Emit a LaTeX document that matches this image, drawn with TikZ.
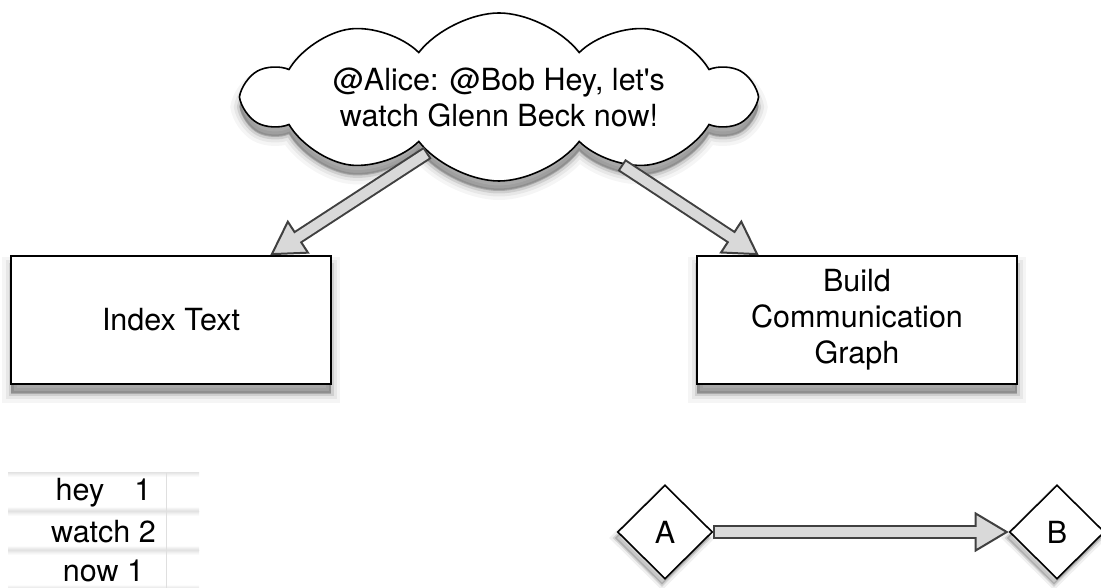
\documentclass[tikz,border=0pt]{standalone}
\usepackage{fontspec}
\newfontfamily\heros{TeX Gyre Heros}
\usepackage{tikz}
\usetikzlibrary{shapes.geometric,shapes.symbols,arrows.meta,shadows}
\pgfdeclareverticalshading{rowshade}{100bp}{color(0bp)=(gray!40); color(25bp)=(gray!40); color(27bp)=(gray!22); color(32bp)=(white); color(70bp)=(white); color(73bp)=(gray!10); color(75bp)=(gray!18); color(100bp)=(gray!18)}
\tikzstyle{softshadow} = [general shadow={shadow yshift=-10pt, draw=black, line width=18pt, opacity=.04, fill=black}, general shadow={shadow yshift=-10pt, draw=black, line width=11pt, opacity=.06, fill=black}, general shadow={shadow yshift=-10pt, draw=black, line width=5pt, opacity=.1, fill=black}, general shadow={shadow yshift=-9pt, opacity=.15, fill=black}]
\tikzstyle{bubble} = [cloud, cloud puffs=10, cloud puff arc=105, cloud ignores aspect, minimum width=508pt, minimum height=168pt, inner sep=0pt, align=center, draw=black, line width=1.6pt, fill=white, softshadow]
\tikzstyle{task} = [rectangle, minimum width=320pt, minimum height=128pt, align=center, draw=black, line width=1.6pt, fill=white, softshadow]
\tikzstyle{vertex} = [diamond, minimum width=95pt, minimum height=94pt, inner sep=0pt, draw=black, line width=1.6pt, fill=white, general shadow={shadow xshift=-3pt, shadow yshift=-6pt, draw=black, line width=8pt, opacity=.06, fill=black}, general shadow={shadow xshift=-3pt, shadow yshift=-6pt, draw=black, line width=3pt, opacity=.12, fill=black}]
\tikzstyle{row} = [rectangle, minimum width=191pt, minimum height=39pt, inner sep=0pt, shading=rowshade]
\tikzstyle{blockarrow} = [line width=14pt, draw=black!75, -{Triangle[length=34pt, width=40pt, line width=2pt, fill=gray!30]}, postaction={draw=gray!30, line width=10pt, -, shorten <=2pt, shorten >=31pt}]

\begin{document}
\begin{tikzpicture}[x=1pt, y=1pt, node distance=39pt, font=\heros\fontsize{30.5}{36}\selectfont]
\useasboundingbox (0,0) rectangle (1101,588);
\node (tweet) [bubble] at (499,491) {@Alice: @Bob Hey, let's\\watch Glenn Beck now!};
\node (index) [task] at (171,268) {Index Text};
\node (build) [task, right of=index, xshift=647pt] {Build\\Communication\\Graph};

\node (hey) [row] at (103.5,95.5) {hey\hspace{30pt}1};
\node (watch) [row, below of=hey] {watch 2};
\node (now) [row, below of=watch] {now 1};
\draw [gray!25] ([xshift=-33pt]hey.north east) -- ([xshift=-33pt]now.south east);

\node (a) [vertex] at (665,56) {A};
\node (b) [vertex, right of=a, xshift=353pt] {B};

\draw [blockarrow] (tweet.218) -- (index);
\draw [blockarrow] (tweet.331) -- (build);
\draw [blockarrow] (a) -- (b);
\end{tikzpicture}
\end{document}
